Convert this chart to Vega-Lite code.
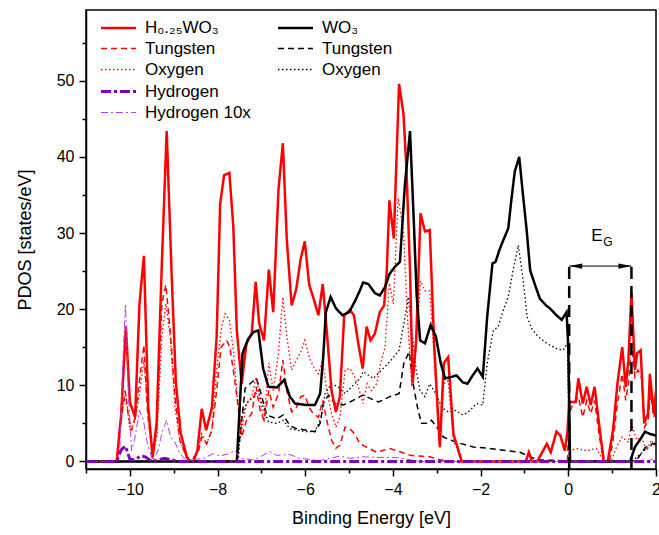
{
  "$schema": "https://vega.github.io/schema/vega-lite/v6.json",
  "width": 570,
  "height": 459,
  "autosize": {"type": "none"},
  "padding": {"left": 86, "top": 10, "right": 3, "bottom": 66},
  "background": "white",
  "config": {
    "view": {"stroke": "black", "strokeWidth": 1.5},
    "font": "Liberation Sans",
    "axis": {"labelFont": "Liberation Sans", "titleFont": "Liberation Sans", "labelColor": "black", "titleColor": "black", "domainColor": "black", "tickColor": "black", "grid": false, "titleFontWeight": "normal"}
  },
  "resolve": {"axis": {"x": "independent", "y": "independent"}},
  "layer": [
    {
      "data": {"values": [
        {"s":"WO3 O","x":-11,"y":0},{"s":"WO3 O","x":-7.53,"y":0},{"s":"WO3 O","x":-7.45,"y":5.8},{"s":"WO3 O","x":-7.34,"y":7.6},{"s":"WO3 O","x":-7.18,"y":8.5},{"s":"WO3 O","x":-7.07,"y":9.3},{"s":"WO3 O","x":-6.96,"y":7.1},{"s":"WO3 O","x":-6.84,"y":5.2},{"s":"WO3 O","x":-6.65,"y":5.0},{"s":"WO3 O","x":-6.5,"y":5.4},{"s":"WO3 O","x":-6.35,"y":4.3},{"s":"WO3 O","x":-6.2,"y":4.1},{"s":"WO3 O","x":-5.97,"y":3.9},{"s":"WO3 O","x":-5.78,"y":3.9},{"s":"WO3 O","x":-5.63,"y":5.8},{"s":"WO3 O","x":-5.55,"y":8.9},{"s":"WO3 O","x":-5.4,"y":10.2},{"s":"WO3 O","x":-5.25,"y":9.8},{"s":"WO3 O","x":-5.09,"y":8.9},{"s":"WO3 O","x":-4.94,"y":9.8},{"s":"WO3 O","x":-4.75,"y":10.9},{"s":"WO3 O","x":-4.68,"y":11.8},{"s":"WO3 O","x":-4.45,"y":10.9},{"s":"WO3 O","x":-4.26,"y":12.0},{"s":"WO3 O","x":-4.07,"y":13.1},{"s":"WO3 O","x":-3.86,"y":14.6},{"s":"WO3 O","x":-3.75,"y":18.1},{"s":"WO3 O","x":-3.65,"y":21.6},{"s":"WO3 O","x":-3.57,"y":17.2},{"s":"WO3 O","x":-3.47,"y":12.0},{"s":"WO3 O","x":-3.38,"y":9.3},{"s":"WO3 O","x":-3.27,"y":8.5},{"s":"WO3 O","x":-3.16,"y":10.2},{"s":"WO3 O","x":-3.02,"y":8.9},{"s":"WO3 O","x":-2.89,"y":7.1},{"s":"WO3 O","x":-2.74,"y":6.5},{"s":"WO3 O","x":-2.58,"y":6.7},{"s":"WO3 O","x":-2.4,"y":6.1},{"s":"WO3 O","x":-2.28,"y":6.5},{"s":"WO3 O","x":-2.09,"y":7.6},{"s":"WO3 O","x":-1.95,"y":7.4},{"s":"WO3 O","x":-1.85,"y":12.9},{"s":"WO3 O","x":-1.71,"y":17.2},{"s":"WO3 O","x":-1.6,"y":17.7},{"s":"WO3 O","x":-1.48,"y":19.9},{"s":"WO3 O","x":-1.37,"y":21.6},{"s":"WO3 O","x":-1.26,"y":25.1},{"s":"WO3 O","x":-1.14,"y":28.4},{"s":"WO3 O","x":-1.04,"y":24.3},{"s":"WO3 O","x":-0.94,"y":19.0},{"s":"WO3 O","x":-0.84,"y":17.5},{"s":"WO3 O","x":-0.69,"y":16.4},{"s":"WO3 O","x":-0.49,"y":15.5},{"s":"WO3 O","x":-0.27,"y":14.8},{"s":"WO3 O","x":-0.12,"y":14.6},{"s":"WO3 O","x":-0.02,"y":15.5},{"s":"WO3 O","x":0.03,"y":0},{"s":"WO3 O","x":1.45,"y":0},{"s":"WO3 O","x":1.55,"y":0.5},{"s":"WO3 O","x":1.75,"y":1.5},{"s":"WO3 O","x":2.0,"y":2.5},

        {"s":"WO3 W","x":-11,"y":0},{"s":"WO3 W","x":-7.56,"y":0},{"s":"WO3 W","x":-7.49,"y":3.2},{"s":"WO3 W","x":-7.37,"y":9.6},{"s":"WO3 W","x":-7.22,"y":10.4},{"s":"WO3 W","x":-7.11,"y":10.9},{"s":"WO3 W","x":-6.99,"y":8.5},{"s":"WO3 W","x":-6.88,"y":6.1},{"s":"WO3 W","x":-6.65,"y":5.6},{"s":"WO3 W","x":-6.5,"y":6.1},{"s":"WO3 W","x":-6.35,"y":4.7},{"s":"WO3 W","x":-6.2,"y":4.3},{"s":"WO3 W","x":-5.97,"y":4.1},{"s":"WO3 W","x":-5.78,"y":3.9},{"s":"WO3 W","x":-5.66,"y":5.0},{"s":"WO3 W","x":-5.59,"y":7.6},{"s":"WO3 W","x":-5.47,"y":8.7},{"s":"WO3 W","x":-5.32,"y":7.6},{"s":"WO3 W","x":-5.13,"y":7.4},{"s":"WO3 W","x":-4.98,"y":7.8},{"s":"WO3 W","x":-4.75,"y":8.5},{"s":"WO3 W","x":-4.68,"y":8.7},{"s":"WO3 W","x":-4.33,"y":7.8},{"s":"WO3 W","x":-4.07,"y":8.5},{"s":"WO3 W","x":-3.86,"y":8.9},{"s":"WO3 W","x":-3.75,"y":12.9},{"s":"WO3 W","x":-3.63,"y":14.4},{"s":"WO3 W","x":-3.54,"y":10.2},{"s":"WO3 W","x":-3.44,"y":7.1},{"s":"WO3 W","x":-3.35,"y":5.0},{"s":"WO3 W","x":-3.23,"y":5.0},{"s":"WO3 W","x":-3.12,"y":5.4},{"s":"WO3 W","x":-3.0,"y":4.5},{"s":"WO3 W","x":-2.85,"y":3.2},{"s":"WO3 W","x":-2.55,"y":2.5},{"s":"WO3 W","x":-2.17,"y":1.9},{"s":"WO3 W","x":-1.79,"y":1.7},{"s":"WO3 W","x":-1.41,"y":1.4},{"s":"WO3 W","x":-1.1,"y":1.2},{"s":"WO3 W","x":-0.95,"y":0.8},{"s":"WO3 W","x":-0.71,"y":0.2},{"s":"WO3 W","x":-0.1,"y":0.1},{"s":"WO3 W","x":0.04,"y":0},{"s":"WO3 W","x":1.45,"y":0},{"s":"WO3 W","x":1.6,"y":0.5},{"s":"WO3 W","x":1.75,"y":1.8},{"s":"WO3 W","x":1.9,"y":2.3},{"s":"WO3 W","x":2.0,"y":2.3},

        {"s":"H O","x":-11,"y":0},{"s":"H O","x":-10.3,"y":0},{"s":"H O","x":-10.19,"y":6.3},{"s":"H O","x":-10.09,"y":8.9},{"s":"H O","x":-10.0,"y":4.1},{"s":"H O","x":-9.88,"y":5.4},{"s":"H O","x":-9.77,"y":9.3},{"s":"H O","x":-9.68,"y":13.3},{"s":"H O","x":-9.58,"y":6.3},{"s":"H O","x":-9.48,"y":0.4},{"s":"H O","x":-9.38,"y":3.6},{"s":"H O","x":-9.27,"y":16.4},{"s":"H O","x":-9.18,"y":20.7},{"s":"H O","x":-9.08,"y":16.4},{"s":"H O","x":-8.97,"y":7.1},{"s":"H O","x":-8.86,"y":2.8},{"s":"H O","x":-8.7,"y":0.4},{"s":"H O","x":-8.6,"y":0},{"s":"H O","x":-8.44,"y":1.7},{"s":"H O","x":-8.36,"y":3.6},{"s":"H O","x":-8.25,"y":2.3},{"s":"H O","x":-8.13,"y":4.1},{"s":"H O","x":-8.02,"y":12.0},{"s":"H O","x":-7.92,"y":17.2},{"s":"H O","x":-7.83,"y":19.4},{"s":"H O","x":-7.73,"y":18.6},{"s":"H O","x":-7.64,"y":14.6},{"s":"H O","x":-7.55,"y":8.5},{"s":"H O","x":-7.45,"y":4.1},{"s":"H O","x":-7.34,"y":7.6},{"s":"H O","x":-7.22,"y":8.5},{"s":"H O","x":-7.12,"y":11.1},{"s":"H O","x":-7.03,"y":8.0},{"s":"H O","x":-6.94,"y":5.4},{"s":"H O","x":-6.83,"y":12.9},{"s":"H O","x":-6.73,"y":9.3},{"s":"H O","x":-6.61,"y":14.2},{"s":"H O","x":-6.51,"y":21.6},{"s":"H O","x":-6.42,"y":16.4},{"s":"H O","x":-6.31,"y":12.0},{"s":"H O","x":-6.2,"y":13.3},{"s":"H O","x":-6.1,"y":14.4},{"s":"H O","x":-6.01,"y":15.9},{"s":"H O","x":-5.91,"y":13.7},{"s":"H O","x":-5.82,"y":12.5},{"s":"H O","x":-5.7,"y":11.5},{"s":"H O","x":-5.6,"y":13.3},{"s":"H O","x":-5.51,"y":9.3},{"s":"H O","x":-5.4,"y":6.3},{"s":"H O","x":-5.3,"y":4.5},{"s":"H O","x":-5.21,"y":5.8},{"s":"H O","x":-5.09,"y":12.0},{"s":"H O","x":-4.98,"y":12.2},{"s":"H O","x":-4.87,"y":11.1},{"s":"H O","x":-4.79,"y":9.8},{"s":"H O","x":-4.68,"y":7.6},{"s":"H O","x":-4.59,"y":10.2},{"s":"H O","x":-4.49,"y":9.3},{"s":"H O","x":-4.37,"y":10.2},{"s":"H O","x":-4.28,"y":12.9},{"s":"H O","x":-4.18,"y":15.0},{"s":"H O","x":-4.08,"y":23.4},{"s":"H O","x":-3.99,"y":20.7},{"s":"H O","x":-3.88,"y":34.6},{"s":"H O","x":-3.76,"y":30.4},{"s":"H O","x":-3.67,"y":19.0},{"s":"H O","x":-3.57,"y":9.8},{"s":"H O","x":-3.47,"y":15.0},{"s":"H O","x":-3.37,"y":23.7},{"s":"H O","x":-3.27,"y":22.4},{"s":"H O","x":-3.16,"y":22.4},{"s":"H O","x":-3.06,"y":13.7},{"s":"H O","x":-2.97,"y":5.0},{"s":"H O","x":-2.93,"y":1.7},{"s":"H O","x":-2.84,"y":10.2},{"s":"H O","x":-2.74,"y":10.6},{"s":"H O","x":-2.62,"y":2.8},{"s":"H O","x":-2.43,"y":0},{"s":"H O","x":-0.02,"y":0},{"s":"H O","x":0.02,"y":1.4},{"s":"H O","x":0.19,"y":1.7},{"s":"H O","x":0.42,"y":1.4},{"s":"H O","x":0.64,"y":1.7},{"s":"H O","x":0.81,"y":0},{"s":"H O","x":0.98,"y":0},{"s":"H O","x":1.1,"y":1.9},{"s":"H O","x":1.23,"y":3.2},{"s":"H O","x":1.37,"y":2.5},{"s":"H O","x":1.44,"y":5.0},{"s":"H O","x":1.56,"y":2.8},{"s":"H O","x":1.67,"y":3.2},{"s":"H O","x":1.78,"y":1.4},{"s":"H O","x":1.9,"y":2.8},{"s":"H O","x":2.0,"y":1.9},

        {"s":"H W","x":-11,"y":0},{"s":"H W","x":-10.3,"y":0},{"s":"H W","x":-10.19,"y":5.8},{"s":"H W","x":-10.11,"y":9.3},{"s":"H W","x":-10.03,"y":5.8},{"s":"H W","x":-9.96,"y":4.1},{"s":"H W","x":-9.88,"y":5.8},{"s":"H W","x":-9.77,"y":11.1},{"s":"H W","x":-9.68,"y":15.3},{"s":"H W","x":-9.6,"y":6.7},{"s":"H W","x":-9.48,"y":0.4},{"s":"H W","x":-9.39,"y":4.1},{"s":"H W","x":-9.27,"y":20.7},{"s":"H W","x":-9.18,"y":23.2},{"s":"H W","x":-9.08,"y":17.2},{"s":"H W","x":-8.97,"y":8.5},{"s":"H W","x":-8.86,"y":2.8},{"s":"H W","x":-8.7,"y":0.4},{"s":"H W","x":-8.6,"y":0},{"s":"H W","x":-8.44,"y":1.2},{"s":"H W","x":-8.36,"y":3.2},{"s":"H W","x":-8.25,"y":2.3},{"s":"H W","x":-8.13,"y":4.1},{"s":"H W","x":-8.02,"y":9.3},{"s":"H W","x":-7.92,"y":15.0},{"s":"H W","x":-7.79,"y":15.9},{"s":"H W","x":-7.72,"y":15.0},{"s":"H W","x":-7.64,"y":12.0},{"s":"H W","x":-7.56,"y":8.5},{"s":"H W","x":-7.45,"y":3.2},{"s":"H W","x":-7.34,"y":5.4},{"s":"H W","x":-7.22,"y":6.3},{"s":"H W","x":-7.12,"y":9.8},{"s":"H W","x":-7.03,"y":6.7},{"s":"H W","x":-6.94,"y":5.4},{"s":"H W","x":-6.83,"y":9.3},{"s":"H W","x":-6.73,"y":7.1},{"s":"H W","x":-6.61,"y":8.9},{"s":"H W","x":-6.51,"y":13.3},{"s":"H W","x":-6.42,"y":9.3},{"s":"H W","x":-6.31,"y":6.5},{"s":"H W","x":-6.2,"y":7.1},{"s":"H W","x":-6.1,"y":8.5},{"s":"H W","x":-6.01,"y":8.7},{"s":"H W","x":-5.91,"y":7.1},{"s":"H W","x":-5.82,"y":6.3},{"s":"H W","x":-5.7,"y":5.8},{"s":"H W","x":-5.6,"y":8.0},{"s":"H W","x":-5.51,"y":5.4},{"s":"H W","x":-5.4,"y":2.8},{"s":"H W","x":-5.3,"y":1.7},{"s":"H W","x":-5.21,"y":2.1},{"s":"H W","x":-5.09,"y":4.5},{"s":"H W","x":-4.98,"y":4.3},{"s":"H W","x":-4.87,"y":3.6},{"s":"H W","x":-4.75,"y":2.3},{"s":"H W","x":-4.68,"y":2.1},{"s":"H W","x":-4.37,"y":1.2},{"s":"H W","x":-4.07,"y":1.7},{"s":"H W","x":-3.8,"y":1.2},{"s":"H W","x":-3.61,"y":0.8},{"s":"H W","x":-3.38,"y":0.7},{"s":"H W","x":-3.16,"y":0.6},{"s":"H W","x":-2.93,"y":0.2},{"s":"H W","x":-2.7,"y":0},{"s":"H W","x":-0.02,"y":0},{"s":"H W","x":0.02,"y":6.3},{"s":"H W","x":0.11,"y":7.6},{"s":"H W","x":0.23,"y":8.5},{"s":"H W","x":0.33,"y":5.8},{"s":"H W","x":0.42,"y":8.0},{"s":"H W","x":0.51,"y":6.3},{"s":"H W","x":0.6,"y":8.0},{"s":"H W","x":0.71,"y":3.2},{"s":"H W","x":0.81,"y":0},{"s":"H W","x":0.94,"y":0},{"s":"H W","x":1.02,"y":2.8},{"s":"H W","x":1.12,"y":7.6},{"s":"H W","x":1.23,"y":11.5},{"s":"H W","x":1.31,"y":8.0},{"s":"H W","x":1.37,"y":10.2},{"s":"H W","x":1.44,"y":15.5},{"s":"H W","x":1.52,"y":11.1},{"s":"H W","x":1.59,"y":12.0},{"s":"H W","x":1.67,"y":11.1},{"s":"H W","x":1.74,"y":4.5},{"s":"H W","x":1.82,"y":5.4},{"s":"H W","x":1.87,"y":8.9},{"s":"H W","x":1.95,"y":5.8},{"s":"H W","x":2.0,"y":7.1},

        {"s":"H total","x":-11,"y":0},{"s":"H total","x":-10.3,"y":0},{"s":"H total","x":-10.2,"y":6},{"s":"H total","x":-10.09,"y":17.7},{"s":"H total","x":-10.0,"y":7.8},{"s":"H total","x":-9.88,"y":5.8},{"s":"H total","x":-9.78,"y":20.7},{"s":"H total","x":-9.68,"y":27.0},{"s":"H total","x":-9.58,"y":7.1},{"s":"H total","x":-9.48,"y":0.6},{"s":"H total","x":-9.39,"y":5},{"s":"H total","x":-9.27,"y":26},{"s":"H total","x":-9.16,"y":43.4},{"s":"H total","x":-9.05,"y":25.1},{"s":"H total","x":-8.95,"y":10.3},{"s":"H total","x":-8.84,"y":3.7},{"s":"H total","x":-8.7,"y":0.6},{"s":"H total","x":-8.62,"y":0},{"s":"H total","x":-8.55,"y":0},{"s":"H total","x":-8.46,"y":1.4},{"s":"H total","x":-8.36,"y":6.9},{"s":"H total","x":-8.26,"y":4.1},{"s":"H total","x":-8.13,"y":7.0},{"s":"H total","x":-8.02,"y":16.4},{"s":"H total","x":-7.94,"y":33.9},{"s":"H total","x":-7.85,"y":37.6},{"s":"H total","x":-7.73,"y":37.9},{"s":"H total","x":-7.64,"y":30.8},{"s":"H total","x":-7.56,"y":17.2},{"s":"H total","x":-7.45,"y":10.2},{"s":"H total","x":-7.34,"y":15.5},{"s":"H total","x":-7.22,"y":16.8},{"s":"H total","x":-7.13,"y":23.6},{"s":"H total","x":-7.05,"y":18.1},{"s":"H total","x":-6.94,"y":15.9},{"s":"H total","x":-6.83,"y":25.2},{"s":"H total","x":-6.73,"y":19.6},{"s":"H total","x":-6.61,"y":35.7},{"s":"H total","x":-6.51,"y":41.8},{"s":"H total","x":-6.42,"y":29.1},{"s":"H total","x":-6.31,"y":20.5},{"s":"H total","x":-6.21,"y":22.5},{"s":"H total","x":-6.1,"y":26.7},{"s":"H total","x":-6.01,"y":28.9},{"s":"H total","x":-5.91,"y":23.2},{"s":"H total","x":-5.82,"y":21.6},{"s":"H total","x":-5.7,"y":19.2},{"s":"H total","x":-5.6,"y":23.3},{"s":"H total","x":-5.51,"y":17.2},{"s":"H total","x":-5.4,"y":9.3},{"s":"H total","x":-5.3,"y":6.5},{"s":"H total","x":-5.21,"y":8.5},{"s":"H total","x":-5.11,"y":19.2},{"s":"H total","x":-4.98,"y":19.9},{"s":"H total","x":-4.89,"y":19.2},{"s":"H total","x":-4.79,"y":15.5},{"s":"H total","x":-4.69,"y":12.2},{"s":"H total","x":-4.6,"y":17.7},{"s":"H total","x":-4.51,"y":15.9},{"s":"H total","x":-4.41,"y":16.8},{"s":"H total","x":-4.3,"y":19.6},{"s":"H total","x":-4.2,"y":20.5},{"s":"H total","x":-4.14,"y":25.1},{"s":"H total","x":-4.08,"y":34.3},{"s":"H total","x":-3.98,"y":29.3},{"s":"H total","x":-3.86,"y":49.6},{"s":"H total","x":-3.76,"y":45.7},{"s":"H total","x":-3.69,"y":38.3},{"s":"H total","x":-3.61,"y":25.1},{"s":"H total","x":-3.55,"y":10.2},{"s":"H total","x":-3.47,"y":15.9},{"s":"H total","x":-3.37,"y":32.6},{"s":"H total","x":-3.27,"y":30.2},{"s":"H total","x":-3.16,"y":30.4},{"s":"H total","x":-3.06,"y":15.5},{"s":"H total","x":-2.97,"y":5.8},{"s":"H total","x":-2.93,"y":1.9},{"s":"H total","x":-2.84,"y":12.9},{"s":"H total","x":-2.74,"y":13.7},{"s":"H total","x":-2.62,"y":3.6},{"s":"H total","x":-2.43,"y":0},{"s":"H total","x":-0.97,"y":0},{"s":"H total","x":-0.9,"y":1.2},{"s":"H total","x":-0.83,"y":0},{"s":"H total","x":-0.71,"y":0},{"s":"H total","x":-0.49,"y":2.3},{"s":"H total","x":-0.4,"y":1.2},{"s":"H total","x":-0.27,"y":3.9},{"s":"H total","x":-0.18,"y":3.4},{"s":"H total","x":-0.08,"y":1.4},{"s":"H total","x":-0.02,"y":3.9},{"s":"H total","x":0.02,"y":7.8},{"s":"H total","x":0.17,"y":7.8},{"s":"H total","x":0.23,"y":10.9},{"s":"H total","x":0.33,"y":7.6},{"s":"H total","x":0.42,"y":9.8},{"s":"H total","x":0.51,"y":7.4},{"s":"H total","x":0.6,"y":9.8},{"s":"H total","x":0.71,"y":4.5},{"s":"H total","x":0.81,"y":0},{"s":"H total","x":0.9,"y":0},{"s":"H total","x":1.02,"y":4.1},{"s":"H total","x":1.12,"y":10.2},{"s":"H total","x":1.23,"y":15.0},{"s":"H total","x":1.31,"y":9.8},{"s":"H total","x":1.37,"y":13.3},{"s":"H total","x":1.44,"y":22.1},{"s":"H total","x":1.52,"y":12.0},{"s":"H total","x":1.57,"y":14.2},{"s":"H total","x":1.65,"y":14.6},{"s":"H total","x":1.73,"y":5.0},{"s":"H total","x":1.82,"y":6.3},{"s":"H total","x":1.86,"y":11.5},{"s":"H total","x":1.95,"y":6.3},{"s":"H total","x":2.0,"y":9.3},

        {"s":"WO3 total","x":-11,"y":0},{"s":"WO3 total","x":-7.56,"y":0},{"s":"WO3 total","x":-7.43,"y":14.2},{"s":"WO3 total","x":-7.3,"y":16.1},{"s":"WO3 total","x":-7.18,"y":17.0},{"s":"WO3 total","x":-7.07,"y":17.2},{"s":"WO3 total","x":-6.96,"y":12.2},{"s":"WO3 total","x":-6.84,"y":9.8},{"s":"WO3 total","x":-6.65,"y":9.7},{"s":"WO3 total","x":-6.48,"y":10.7},{"s":"WO3 total","x":-6.35,"y":8.5},{"s":"WO3 total","x":-6.23,"y":7.6},{"s":"WO3 total","x":-5.97,"y":7.4},{"s":"WO3 total","x":-5.78,"y":7.4},{"s":"WO3 total","x":-5.66,"y":8.9},{"s":"WO3 total","x":-5.59,"y":13.7},{"s":"WO3 total","x":-5.53,"y":19.6},{"s":"WO3 total","x":-5.42,"y":21.6},{"s":"WO3 total","x":-5.3,"y":20.1},{"s":"WO3 total","x":-5.15,"y":19.2},{"s":"WO3 total","x":-5.0,"y":19.6},{"s":"WO3 total","x":-4.87,"y":21.0},{"s":"WO3 total","x":-4.75,"y":22.5},{"s":"WO3 total","x":-4.68,"y":23.5},{"s":"WO3 total","x":-4.56,"y":23.3},{"s":"WO3 total","x":-4.41,"y":22.1},{"s":"WO3 total","x":-4.3,"y":21.8},{"s":"WO3 total","x":-4.18,"y":22.9},{"s":"WO3 total","x":-4.08,"y":24.6},{"s":"WO3 total","x":-3.95,"y":25.6},{"s":"WO3 total","x":-3.84,"y":26.2},{"s":"WO3 total","x":-3.73,"y":36.1},{"s":"WO3 total","x":-3.61,"y":43.4},{"s":"WO3 total","x":-3.52,"y":31.0},{"s":"WO3 total","x":-3.46,"y":22.0},{"s":"WO3 total","x":-3.38,"y":15.9},{"s":"WO3 total","x":-3.27,"y":15.5},{"s":"WO3 total","x":-3.14,"y":17.9},{"s":"WO3 total","x":-3.02,"y":16.4},{"s":"WO3 total","x":-2.91,"y":12.9},{"s":"WO3 total","x":-2.81,"y":10.9},{"s":"WO3 total","x":-2.66,"y":11.1},{"s":"WO3 total","x":-2.55,"y":11.3},{"s":"WO3 total","x":-2.41,"y":10.4},{"s":"WO3 total","x":-2.3,"y":10.2},{"s":"WO3 total","x":-2.18,"y":11.3},{"s":"WO3 total","x":-2.07,"y":12.2},{"s":"WO3 total","x":-1.95,"y":11.1},{"s":"WO3 total","x":-1.85,"y":19.0},{"s":"WO3 total","x":-1.73,"y":26.0},{"s":"WO3 total","x":-1.66,"y":26.2},{"s":"WO3 total","x":-1.57,"y":27.8},{"s":"WO3 total","x":-1.48,"y":29.1},{"s":"WO3 total","x":-1.37,"y":30.6},{"s":"WO3 total","x":-1.29,"y":34.8},{"s":"WO3 total","x":-1.22,"y":38.1},{"s":"WO3 total","x":-1.12,"y":40.0},{"s":"WO3 total","x":-1.03,"y":34.8},{"s":"WO3 total","x":-0.95,"y":30.4},{"s":"WO3 total","x":-0.87,"y":25.1},{"s":"WO3 total","x":-0.76,"y":23.2},{"s":"WO3 total","x":-0.65,"y":21.4},{"s":"WO3 total","x":-0.51,"y":20.5},{"s":"WO3 total","x":-0.42,"y":20.1},{"s":"WO3 total","x":-0.27,"y":19.2},{"s":"WO3 total","x":-0.15,"y":18.6},{"s":"WO3 total","x":-0.04,"y":19.6},{"s":"WO3 total","x":0.0,"y":15.0},{"s":"WO3 total","x":0.04,"y":0},{"s":"WO3 total","x":1.41,"y":0},{"s":"WO3 total","x":1.52,"y":1.9},{"s":"WO3 total","x":1.63,"y":2.8},{"s":"WO3 total","x":1.75,"y":3.9},{"s":"WO3 total","x":1.86,"y":3.6},{"s":"WO3 total","x":2.0,"y":3.4},

        {"s":"H H x10","x":-11,"y":0},{"s":"H H x10","x":-10.3,"y":0},{"s":"H H x10","x":-10.23,"y":1.4},{"s":"H H x10","x":-10.16,"y":12.9},{"s":"H H x10","x":-10.1,"y":20.7},{"s":"H H x10","x":-10.03,"y":8.5},{"s":"H H x10","x":-9.96,"y":1.4},{"s":"H H x10","x":-9.88,"y":3.2},{"s":"H H x10","x":-9.78,"y":6.7},{"s":"H H x10","x":-9.69,"y":5.4},{"s":"H H x10","x":-9.6,"y":2.3},{"s":"H H x10","x":-9.48,"y":0.1},{"s":"H H x10","x":-9.36,"y":1.4},{"s":"H H x10","x":-9.25,"y":4.1},{"s":"H H x10","x":-9.16,"y":5.4},{"s":"H H x10","x":-9.07,"y":3.2},{"s":"H H x10","x":-8.97,"y":2.5},{"s":"H H x10","x":-8.86,"y":1.0},{"s":"H H x10","x":-8.7,"y":0.1},{"s":"H H x10","x":-8.32,"y":0.4},{"s":"H H x10","x":-8.1,"y":1.0},{"s":"H H x10","x":-7.94,"y":0.7},{"s":"H H x10","x":-7.75,"y":1.0},{"s":"H H x10","x":-7.6,"y":1.4},{"s":"H H x10","x":-7.49,"y":0.4},{"s":"H H x10","x":-7.18,"y":0.2},{"s":"H H x10","x":-6.96,"y":0.8},{"s":"H H x10","x":-6.82,"y":1.3},{"s":"H H x10","x":-6.65,"y":0.8},{"s":"H H x10","x":-6.35,"y":0.9},{"s":"H H x10","x":-6.12,"y":0.4},{"s":"H H x10","x":-5.66,"y":0.1},{"s":"H H x10","x":-5.21,"y":0.7},{"s":"H H x10","x":-4.98,"y":0.4},{"s":"H H x10","x":-4.68,"y":0.6},{"s":"H H x10","x":-4.3,"y":0.5},{"s":"H H x10","x":-3.9,"y":0.5},{"s":"H H x10","x":-3.6,"y":0.2},{"s":"H H x10","x":-3.4,"y":0},{"s":"H H x10","x":1.8,"y":0},{"s":"H H x10","x":1.95,"y":0.4},{"s":"H H x10","x":2.0,"y":0.3},

        {"s":"H H","x":-11,"y":0},{"s":"H H","x":-10.3,"y":0},{"s":"H H","x":-10.2,"y":1.5},{"s":"H H","x":-10.1,"y":2.0},{"s":"H H","x":-10.0,"y":0.3},{"s":"H H","x":-9.9,"y":0.2},{"s":"H H","x":-9.75,"y":0.7},{"s":"H H","x":-9.65,"y":0.6},{"s":"H H","x":-9.5,"y":0},{"s":"H H","x":-9.2,"y":0.4},{"s":"H H","x":-8.9,"y":0},{"s":"H H","x":2.0,"y":0}
      ]},
      "mark": {"type": "line", "clip": true},
      "encoding": {
        "x": {"field": "x", "type": "quantitative", "scale": {"domain": [-11, 2], "nice": false, "zero": false},
              "axis": {"orient": "bottom", "values": [-10, -8, -6, -4, -2, 0, 2], "tickSize": 7, "tickWidth": 1.5, "domainWidth": 1.5, "labelFontSize": 16, "labelPadding": 5, "title": "Binding Energy [eV]", "titleFontSize": 18, "titlePadding": 12, "labelFlush": false}},
        "y": {"field": "y", "type": "quantitative", "scale": {"domain": [-1, 59.3], "nice": false, "zero": false},
              "axis": {"orient": "left", "values": [0, 10, 20, 30, 40, 50], "tickSize": 7, "tickWidth": 1.5, "domainWidth": 1.5, "labelFontSize": 16, "labelPadding": 5, "title": "PDOS [states/eV]", "titleFontSize": 18, "titlePadding": 22}},
        "color": {"field": "s", "type": "nominal",
          "scale": {"domain": ["H total", "H W", "H O", "H H", "H H x10", "WO3 total", "WO3 W", "WO3 O", "blank"],
                    "range": ["#ff0000", "#ff0000", "#ff0000", "#7a00c2", "#b23ee6", "#000000", "#000000", "#000000", "rgba(0,0,0,0)"]},
          "legend": {"orient": "none", "legendX": 22, "legendY": 8, "columns": 2, "title": null, "symbolType": "M-2,0L2,0", "symbolSize": 306, "labelFontSize": 17, "labelFont": "Liberation Sans", "labelColor": "black", "columnPadding": 22, "rowPadding": 3, "labelOffset": 16, "padding": 0,
            "labelExpr": "['H₀.₂₅WO₃','Tungsten','Oxygen','Hydrogen','Hydrogen 10x','WO₃','Tungsten','Oxygen',''][indexof(['H total','H W','H O','H H','H H x10','WO3 total','WO3 W','WO3 O','blank'], datum.value)]"}},
        "strokeDash": {"field": "s", "type": "nominal",
          "scale": {"type": "ordinal", "domain": ["H total", "H W", "H O", "H H", "H H x10", "WO3 total", "WO3 W", "WO3 O", "blank"],
                    "range": [[1, 0], [6, 4], [1.5, 2.5], [10, 3, 3, 3], [7, 3, 2, 3], [1, 0], [6, 4], [1.5, 2.5], [1, 0]]},
          "legend": {"orient": "none", "legendX": 22, "legendY": 8, "columns": 2, "title": null, "symbolType": "M-2,0L2,0", "symbolSize": 306, "labelFontSize": 17, "labelFont": "Liberation Sans", "labelColor": "black", "columnPadding": 22, "rowPadding": 3, "labelOffset": 16, "padding": 0,
            "labelExpr": "['H₀.₂₅WO₃','Tungsten','Oxygen','Hydrogen','Hydrogen 10x','WO₃','Tungsten','Oxygen',''][indexof(['H total','H W','H O','H H','H H x10','WO3 total','WO3 W','WO3 O','blank'], datum.value)]"}},
        "strokeWidth": {"field": "s", "type": "nominal",
          "scale": {"type": "ordinal", "domain": ["H total", "H W", "H O", "H H", "H H x10", "WO3 total", "WO3 W", "WO3 O", "blank"],
                    "range": [2.5, 1.5, 1.3, 3, 1, 2.5, 1.5, 1.3, 1]},
          "legend": {"orient": "none", "legendX": 22, "legendY": 8, "columns": 2, "title": null, "symbolType": "M-2,0L2,0", "symbolSize": 306, "labelFontSize": 17, "labelFont": "Liberation Sans", "labelColor": "black", "columnPadding": 22, "rowPadding": 3, "labelOffset": 16, "padding": 0,
            "labelExpr": "['H₀.₂₅WO₃','Tungsten','Oxygen','Hydrogen','Hydrogen 10x','WO₃','Tungsten','Oxygen',''][indexof(['H total','H W','H O','H H','H H x10','WO3 total','WO3 W','WO3 O','blank'], datum.value)]"}}
      }
    },
    {
      "data": {"values": [{"x": 0.02, "y": -1, "y2": 26.1}, {"x": 1.44, "y": -1, "y2": 26.1}]},
      "mark": {"type": "rule", "color": "black", "strokeWidth": 2.5, "strokeDash": [12, 7]},
      "encoding": {
        "x": {"field": "x", "type": "quantitative", "axis": {"orient": "bottom", "values": [-11, -9, -7, -5, -3, -1, 1], "labels": false, "domain": false, "tickSize": 4, "tickWidth": 1.5, "title": null}},
        "y": {"field": "y", "type": "quantitative", "axis": {"orient": "left", "values": [5, 15, 25, 35, 45, 55], "labels": false, "domain": false, "tickSize": 4, "tickWidth": 1.5, "title": null}},
        "y2": {"field": "y2"}
      }
    },
    {
      "data": {"values": [{"x": 0.02, "x2": 1.44, "y": 25.66}]},
      "mark": {"type": "rule", "color": "black", "strokeWidth": 1},
      "encoding": {
        "x": {"field": "x", "type": "quantitative", "axis": null},
        "x2": {"field": "x2"},
        "y": {"field": "y", "type": "quantitative", "axis": null}
      }
    },
    {
      "data": {"values": [{"x": 0.17, "y": 25.66, "dir": "left"}, {"x": 1.29, "y": 25.66, "dir": "right"}]},
      "mark": {"type": "point", "filled": true, "color": "black", "opacity": 1, "size": 169},
      "encoding": {
        "x": {"field": "x", "type": "quantitative", "axis": null},
        "y": {"field": "y", "type": "quantitative", "axis": null},
        "shape": {"field": "dir", "type": "nominal", "scale": {"domain": ["left", "right"], "range": ["M-1,0L1,-0.4L1,0.4Z", "M1,0L-1,-0.4L-1,0.4Z"]}, "legend": null}
      }
    },
    {
      "data": {"values": [{"x": 0.65, "y": 29.6, "t": "E"}]},
      "mark": {"type": "text", "fontSize": 17, "font": "Liberation Sans", "color": "black", "align": "center", "baseline": "middle"},
      "encoding": {
        "x": {"field": "x", "type": "quantitative", "axis": null},
        "y": {"field": "y", "type": "quantitative", "axis": null},
        "text": {"field": "t"}
      }
    },
    {
      "data": {"values": [{"x": 0.65, "y": 29.6, "t": "G"}]},
      "mark": {"type": "text", "fontSize": 12, "font": "Liberation Sans", "color": "black", "align": "center", "baseline": "middle", "dx": 11, "dy": 6},
      "encoding": {
        "x": {"field": "x", "type": "quantitative", "axis": null},
        "y": {"field": "y", "type": "quantitative", "axis": null},
        "text": {"field": "t"}
      }
    }
  ]
}
